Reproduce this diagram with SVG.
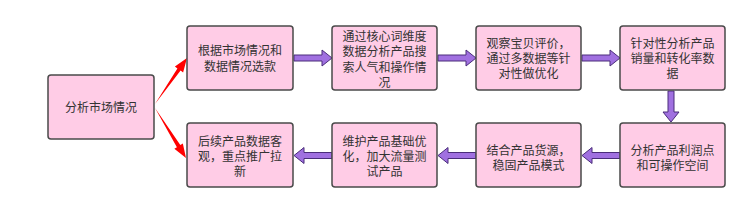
<svg xmlns="http://www.w3.org/2000/svg" width="755" height="208" viewBox="0 0 755 208">
<defs>
<style>
.box{fill:#ffcce6;stroke:#4a4a4a;stroke-width:1.5}
.t{font-family:"Liberation Sans","Noto Sans CJK SC",sans-serif;font-size:12px;fill:#333;text-anchor:middle}
.pa{fill:#a070e0;stroke:#4a2d7a;stroke-width:1}
.ra{fill:#ff0000}
</style>
</defs>
<rect width="755" height="208" fill="#ffffff"/>
<g id="connectors">
<polygon class="ra" points="155,104 180.6,70.6 183.1,72.4 187,58 174.9,66.6 177.4,68.4"/>
<polygon class="ra" points="155,108 180.3,145.05 182.85,143.46 186,158 174.35,148.74 176.9,147.15"/>
<polygon class="pa" points="294,55 322,55 322,50 332,58 322,66 322,61 294,61"/>
<polygon class="pa" points="438,55 466,55 466,50 476,58 466,66 466,61 438,61"/>
<polygon class="pa" points="582,55 610,55 610,50 620,58 610,66 610,61 582,61"/>
<polygon class="pa" points="668,91 674,91 674,112 679,112 671,122 663,112 668,112"/>
<polygon class="pa" points="620,152.5 592,152.5 592,147.5 582,155.5 592,163.5 592,158.5 620,158.5"/>
<polygon class="pa" points="476,152.5 448,152.5 448,147.5 438,155.5 448,163.5 448,158.5 476,158.5"/>
<polygon class="pa" points="332,152.5 304,152.5 304,147.5 294,155.5 304,163.5 304,158.5 332,158.5"/>
</g>
<g id="n0"><rect class="box" x="48" y="75" width="106" height="64" rx="3"/><text class="t" x="101" y="112">分析市场情况</text></g>
<g id="n1"><rect class="box" x="187" y="26" width="106" height="64" rx="3"/><text class="t"><tspan x="240" y="54.5">根据市场情况和</tspan><tspan x="240" y="70.5">数据情况选款</tspan></text></g>
<g id="n2"><rect class="box" x="332" y="26" width="105" height="64" rx="3"/><text class="t"><tspan x="384.5" y="40.5">通过核心词维度</tspan><tspan x="384.5" y="56">数据分析产品搜</tspan><tspan x="384.5" y="71.5">索人气和操作情</tspan><tspan x="384.5" y="87">况</tspan></text></g>
<g id="n3"><rect class="box" x="476" y="26" width="105" height="64" rx="3"/><text class="t"><tspan x="528.5" y="47.5">观察宝贝评价，</tspan><tspan x="528.5" y="62.5">通过多数据等针</tspan><tspan x="528.5" y="77.5">对性做优化</tspan></text></g>
<g id="n4"><rect class="box" x="620" y="26" width="105" height="64" rx="3"/><text class="t"><tspan x="672.5" y="47.5">针对性分析产品</tspan><tspan x="672.5" y="62.5">销量和转化率数</tspan><tspan x="672.5" y="77.5">据</tspan></text></g>
<g id="n5"><rect class="box" x="620" y="123" width="105" height="64" rx="3"/><text class="t"><tspan x="672.5" y="154.5">分析产品利润点</tspan><tspan x="672.5" y="169.5">和可操作空间</tspan></text></g>
<g id="n6"><rect class="box" x="476" y="123" width="105" height="64" rx="3"/><text class="t"><tspan x="528.5" y="154.5">结合产品货源，</tspan><tspan x="528.5" y="169.5">稳固产品模式</tspan></text></g>
<g id="n7"><rect class="box" x="332" y="123" width="105" height="64" rx="3"/><text class="t"><tspan x="384.5" y="146">维护产品基础优</tspan><tspan x="384.5" y="161">化，加大流量测</tspan><tspan x="384.5" y="176">试产品</tspan></text></g>
<g id="n8"><rect class="box" x="187" y="123" width="106" height="64" rx="3"/><text class="t"><tspan x="240" y="146">后续产品数据客</tspan><tspan x="240" y="161">观，重点推广拉</tspan><tspan x="240" y="176">新</tspan></text></g>
</svg>
